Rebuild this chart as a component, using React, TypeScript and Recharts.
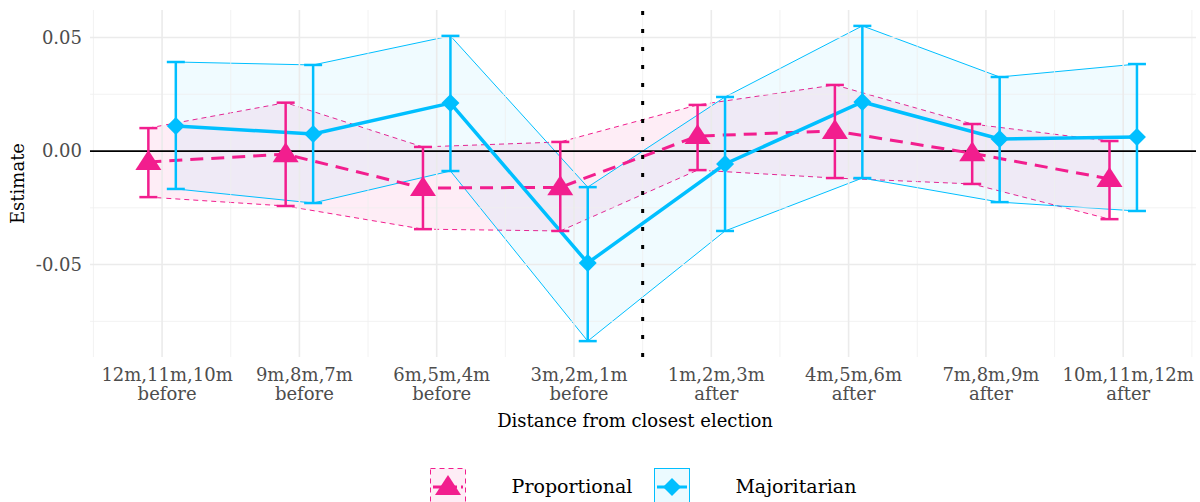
import {
  ComposedChart,
  Area,
  Line,
  Scatter,
  ErrorBar,
  XAxis,
  YAxis,
  ReferenceLine,
  Legend,
  Label,
} from 'recharts'

const FONT = '"DejaVu Serif", serif'
const PINK = '#F21E8E'
const CYAN = '#00BFFF'

// tick labels
const periods = ['12m,11m,10m', '9m,8m,7m', '6m,5m,4m', '3m,2m,1m', '1m,2m,3m', '4m,5m,6m', '7m,8m,9m', '10m,11m,12m']
const sides = ['before', 'before', 'before', 'before', 'after', 'after', 'after', 'after']

// Proportional
const propEst = [-0.0048, -0.0014, -0.0163, -0.016, 0.0066, 0.0088, -0.001, -0.0123]
const propLo = [-0.0203, -0.0242, -0.0344, -0.0352, -0.0084, -0.0119, -0.0145, -0.03]
const propHi = [0.0101, 0.0213, 0.0018, 0.004, 0.0203, 0.0291, 0.0119, 0.0044]

// Majoritarian
const majEst = [0.011, 0.0075, 0.0211, -0.0493, -0.0057, 0.0216, 0.0053, 0.0062]
const majLo = [-0.0167, -0.0229, -0.0088, -0.0837, -0.0352, -0.0119, -0.0225, -0.0264]
const majHi = [0.0392, 0.0379, 0.0507, -0.0159, 0.0238, 0.0551, 0.0326, 0.0383]

const positions = [1, 2, 3, 4, 5, 6, 7, 8]
const minorX = [0.5, 1.5, 2.5, 3.5, 4.5, 5.5, 6.5, 7.5, 8.5]
const majorY = [-0.05, 0.05]
const minorY = [-0.075, -0.025, 0.025]

const DODGE = 0.1

const makeRows = (est: number[], lo: number[], hi: number[], shift: number) =>
  est.map((v, i) => ({
    x: positions[i] + shift,
    est: v,
    range: [lo[i], hi[i]],
    err: [v - lo[i], hi[i] - v],
  }))

const propRows = makeRows(propEst, propLo, propHi, -DODGE)
const majRows = makeRows(majEst, majLo, majHi, DODGE)

const Triangle = (props: any) => {
  const { cx, cy } = props
  if (cx == null || cy == null) return null
  return <polygon points={`${cx},${cy - 12} ${cx - 13},${cy + 8} ${cx + 13},${cy + 8}`} fill={PINK} />
}

const Diamond = (props: any) => {
  const { cx, cy } = props
  if (cx == null || cy == null) return null
  return <polygon points={`${cx},${cy - 9} ${cx + 9},${cy} ${cx},${cy + 9} ${cx - 9},${cy}`} fill={CYAN} />
}

function PeriodTick({ x, y, payload }: any) {
  const i = Math.round(payload.value) - 1
  return (
    <text x={x + 5} y={y} textAnchor="middle" fill="#4D4D4D" fontSize={18} fontFamily={FONT}>
      <tspan x={x + 5} dy={16}>{periods[i]}</tspan>
      <tspan x={x + 5} dy={19}>{sides[i]}</tspan>
    </text>
  )
}

function KeyBox({ kind }: { kind: 'prop' | 'maj' }) {
  const color = kind === 'prop' ? PINK : CYAN
  return (
    <svg width={36} height={36} style={{ display: 'block' }}>
      <rect
        x={0.5}
        y={0.5}
        width={35}
        height={40}
        fill={color}
        fillOpacity={0.08}
        stroke={color}
        strokeWidth={1}
        strokeDasharray={kind === 'prop' ? '5 4' : undefined}
      />
      <line
        x1={3}
        x2={33}
        y1={19}
        y2={19}
        stroke={color}
        strokeWidth={3}
        strokeDasharray={kind === 'prop' ? '10 4' : undefined}
      />
      {kind === 'prop' ? (
        <polygon points="18,7 5,27 31,27" fill={PINK} />
      ) : (
        <polygon points="18,10 27,19 18,28 9,19" fill={CYAN} />
      )}
    </svg>
  )
}

function LegendContent() {
  const text = { fontFamily: FONT, fontSize: 19, color: '#000', lineHeight: '36px' }
  return (
    <div
      style={{
        display: 'flex',
        justifyContent: 'center',
        alignItems: 'flex-start',
        height: 50,
        paddingTop: 16,
        paddingLeft: 86,
        boxSizing: 'border-box',
        overflow: 'hidden',
      }}
    >
      <KeyBox kind="prop" />
      <span style={{ ...text, marginLeft: 46 }}>Proportional</span>
      <span style={{ marginLeft: 22 }}>
        <KeyBox kind="maj" />
      </span>
      <span style={{ ...text, marginLeft: 45 }}>Majoritarian</span>
    </div>
  )
}

export default function App() {
  return (
    <div style={{ position: 'absolute', left: 0, top: 0, background: '#fff' }}>
      <ComposedChart width={1200} height={502} margin={{ top: 10, right: 4, bottom: 0, left: 0 }}>
        <XAxis
          type="number"
          dataKey="x"
          domain={[0.475, 8.53]}
          ticks={positions}
          interval={0}
          allowDataOverflow
          axisLine={false}
          tickLine={false}
          height={95}
          tick={<PeriodTick />}
        >
          <Label
            value="Distance from closest election"
            position="insideBottom"
            offset={25}
            dx={-8}
            fill="#000"
            fontSize={18}
            fontFamily={FONT}
          />
        </XAxis>
        <YAxis
          type="number"
          domain={[-0.0907, 0.0621]}
          ticks={[-0.05, 0, 0.05]}
          allowDataOverflow
          axisLine={false}
          tickLine={false}
          width={90}
          tickFormatter={(v: number) => v.toFixed(2)}
          tick={{ fill: '#4D4D4D', fontSize: 18, fontFamily: FONT }}
        >
          <Label
            value="Estimate"
            angle={-90}
            position="insideLeft"
            offset={18}
            fill="#000"
            fontSize={18}
            fontFamily={FONT}
            style={{ textAnchor: 'middle' }}
          />
        </YAxis>

        {minorY.map((v) => (
          <ReferenceLine key={`my${v}`} y={v} stroke="#EFEFEF" strokeWidth={0.8} />
        ))}
        {minorX.map((v) => (
          <ReferenceLine key={`mx${v}`} x={v} stroke="#EFEFEF" strokeWidth={0.8} />
        ))}
        {majorY.map((v) => (
          <ReferenceLine key={`My${v}`} y={v} stroke="#EBEBEB" strokeWidth={1.6} />
        ))}
        {positions.map((v) => (
          <ReferenceLine key={`Mx${v}`} x={v} stroke="#EBEBEB" strokeWidth={1.6} />
        ))}
        <ReferenceLine y={0} stroke="#000" strokeWidth={1.8} />

        <Area
          data={propRows}
          dataKey="range"
          type="linear"
          fill={PINK}
          fillOpacity={0.08}
          stroke={PINK}
          strokeWidth={1}
          strokeDasharray="5 4"
          isAnimationActive={false}
          activeDot={false}
        />
        <Area
          data={majRows}
          dataKey="range"
          type="linear"
          fill={CYAN}
          fillOpacity={0.06}
          stroke={CYAN}
          strokeWidth={1}
          isAnimationActive={false}
          activeDot={false}
        />
        <Line
          data={propRows}
          dataKey="est"
          type="linear"
          stroke={PINK}
          strokeWidth={3}
          strokeDasharray="13 8"
          dot={false}
          activeDot={false}
          isAnimationActive={false}
        />
        <Line
          data={majRows}
          dataKey="est"
          type="linear"
          stroke={CYAN}
          strokeWidth={3.5}
          dot={false}
          activeDot={false}
          isAnimationActive={false}
        />
        <Scatter data={propRows} dataKey="est" shape={<Triangle />} isAnimationActive={false}>
          <ErrorBar dataKey="err" direction="y" width={9} stroke={PINK} strokeWidth={2.5} />
        </Scatter>
        <Scatter data={majRows} dataKey="est" shape={<Diamond />} isAnimationActive={false}>
          <ErrorBar dataKey="err" direction="y" width={9} stroke={CYAN} strokeWidth={2.5} />
        </Scatter>
        <ReferenceLine x={4.5} stroke="#000" strokeWidth={3} strokeDasharray="4 14" />

        <Legend verticalAlign="bottom" height={50} content={<LegendContent />} wrapperStyle={{ left: 0, width: 1200 }} />
      </ComposedChart>
    </div>
  )
}
